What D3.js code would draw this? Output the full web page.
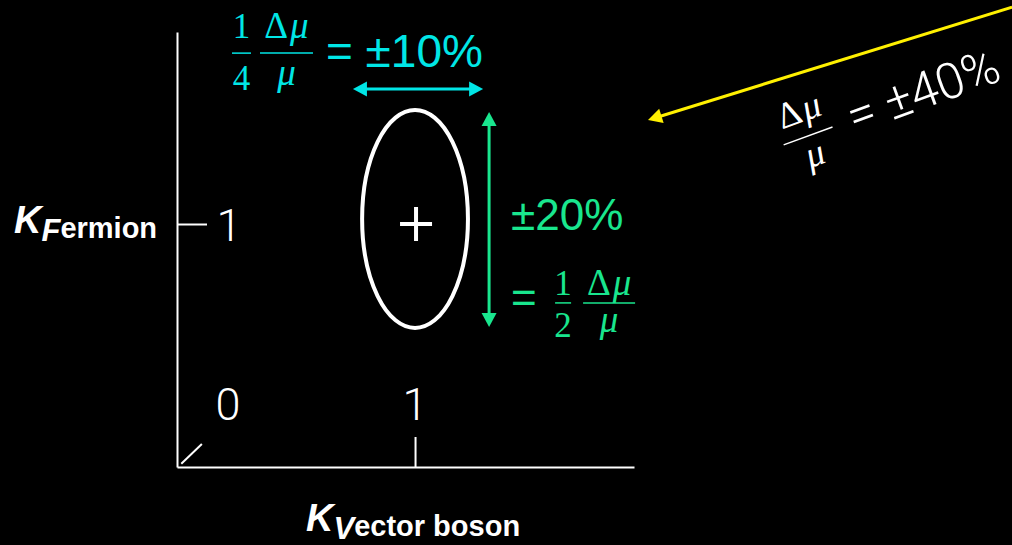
<!DOCTYPE html>
<html>
<head>
<meta charset="utf-8">
<title>Coupling precision sketch</title>
<script src="https://d3js.org/d3.v7.min.js"></script>
<style>
  body { margin: 0; background: #000; }
  svg { display: block; background: #000; }
  .axis path, .axis line { stroke: #fff; stroke-width: 2; }
  .sans { font-family: "Liberation Sans", Arial, sans-serif; }
  .math { font-family: "Liberation Serif", "DejaVu Serif", serif; }
  .light { font-family: Roboto, "Liberation Sans", sans-serif; font-weight: 300; }
</style>
</head>
<body>
<svg id="chart" width="1012" height="545"></svg>
<script>
// axis extents, in kappa units
const kvExtent = [-0.273, 2.171];
const kfExtent = [-0.358, 2.073];
const xTickValues = [1];
const yTickValues = [1];
const xTickLabels = [0, 1];
const yTickLabels = [1];

// fit ellipse: centre and half widths, plus best fit point
const fitCentre = [1, 1.028];
const fitHalfWidth = [0.283, 0.609];
const bestFit = [1, 1];

// annotation arrows [from, to]
const cyanArrow = [[0.668, 1.754], [1.364, 1.754]];
const greenArrow = [[1.396, 1.626], [1.396, 0.425]];
const yellowArrow = [[4.193, 2.212], [2.246, 1.581]];

// annotation anchors and their percentages
const cyanAnchor = [0.021, 1.955];
const greenAnchor = [1.749, 0.559];
const whiteAnchor = [3.102, 1.492];
const pctLabels = ["±10%", "±20%", "±40%"];

const cyan = "#00e6e6", green = "#19e68e", yellow = "#fff000";

const svg = d3.select("#chart");

const x = d3.scaleLinear().domain(kvExtent).range([177, 634]);
const y = d3.scaleLinear().domain(kfExtent).range([467, 32]);

// axes
svg.append("g")
  .attr("class", "axis")
  .attr("transform", "translate(0," + y(kfExtent[0]) + ")")
  .call(d3.axisBottom(x).tickValues(xTickValues).tickSize(-30).tickSizeOuter(0).tickFormat(""));

svg.append("g")
  .attr("class", "axis")
  .attr("transform", "translate(" + x(kvExtent[0]) + ",0)")
  .call(d3.axisLeft(y).tickValues(yTickValues).tickSize(-30).tickSizeOuter(0).tickFormat(""));

// little break mark at the origin
const breakMark = [[-0.25, -0.34], [-0.14, -0.23]];
svg.append("line")
  .attr("x1", x(breakMark[0][0])).attr("y1", y(breakMark[0][1]))
  .attr("x2", x(breakMark[1][0])).attr("y2", y(breakMark[1][1]))
  .attr("stroke", "#fff").attr("stroke-width", 2);

// tick labels
svg.selectAll(".xlab").data(xTickLabels).enter().append("text")
  .attr("class", "light")
  .attr("x", d => x(d)).attr("y", y(0) + 17)
  .attr("text-anchor", "middle").attr("font-size", 45).attr("fill", "#fff")
  .text(d => d);

svg.selectAll(".ylab").data(yTickLabels).enter().append("text")
  .attr("class", "light")
  .attr("x", x(0) + 1).attr("y", d => y(d) + 17)
  .attr("text-anchor", "middle").attr("font-size", 45).attr("fill", "#fff")
  .text(d => d);

// axis titles
function axisTitle(px, py, cap, rest) {
  const t = svg.append("text").attr("class", "sans").attr("x", px).attr("y", py).attr("fill", "#fff").attr("font-weight", "bold");
  t.append("tspan").attr("font-size", 38).attr("font-style", "italic").text("K");
  t.append("tspan").attr("font-size", 31).attr("font-style", "italic").attr("dy", 8).text(cap);
  t.append("tspan").attr("font-size", 29).attr("dy", -3).text(rest);
}
axisTitle(14, 233, "F", "ermion");
axisTitle(306, 531, "V", "ector boson");

// fit ellipse and best fit marker
svg.append("ellipse")
  .attr("cx", x(fitCentre[0])).attr("cy", y(fitCentre[1]))
  .attr("rx", x(fitCentre[0] + fitHalfWidth[0]) - x(fitCentre[0]))
  .attr("ry", y(fitCentre[1] - fitHalfWidth[1]) - y(fitCentre[1]))
  .attr("fill", "none").attr("stroke", "#fff").attr("stroke-width", 4);

const bx = x(bestFit[0]) + 1, by = y(bestFit[1]);
svg.append("path")
  .attr("d", `M${bx - 16},${by}H${bx + 16}M${bx},${by - 17}V${by + 17}`)
  .attr("stroke", "#fff").attr("stroke-width", 4);

// arrows
function arrow(pts, color, both) {
  const p0 = [x(pts[0][0]), y(pts[0][1])];
  const p1 = [x(pts[1][0]), y(pts[1][1])];
  const len = 14, hw = 7.5;
  const dx = p1[0] - p0[0], dy = p1[1] - p0[1];
  const L = Math.hypot(dx, dy), ux = dx / L, uy = dy / L;
  const a = both ? [p0[0] + ux * len * 0.8, p0[1] + uy * len * 0.8] : p0;
  const b = [p1[0] - ux * len * 0.8, p1[1] - uy * len * 0.8];
  svg.append("line").attr("x1", a[0]).attr("y1", a[1]).attr("x2", b[0]).attr("y2", b[1])
    .attr("stroke", color).attr("stroke-width", 3);
  const head = (tip, sx, sy) => {
    const bxp = tip[0] - sx * len, byp = tip[1] - sy * len;
    svg.append("path")
      .attr("d", `M${tip[0]},${tip[1]}L${bxp - sy * hw},${byp + sx * hw}L${bxp + sy * hw},${byp - sx * hw}Z`)
      .attr("fill", color);
  };
  head(p1, ux, uy);
  if (both) head(p0, -ux, -uy);
}
arrow(cyanArrow, cyan, true);
arrow(greenArrow, green, true);
arrow(yellowArrow, yellow, false);

// fractions
const dmu = 'Δ<tspan font-style="italic" dx="2">μ</tspan>';
const mu = '<tspan font-style="italic">μ</tspan>';
function fraction(g, x0, x1, num, den, numY, denY, color, size) {
  const cx = (x0 + x1) / 2;
  g.append("line").attr("x1", x0).attr("x2", x1).attr("y1", 0).attr("y2", 0)
    .attr("stroke", color).attr("stroke-width", 1.5);
  g.append("text").attr("class", "math").attr("x", cx).attr("y", numY)
    .attr("text-anchor", "middle").attr("font-size", size).attr("fill", color).html(num);
  g.append("text").attr("class", "math").attr("x", cx).attr("y", denY)
    .attr("text-anchor", "middle").attr("font-size", size).attr("fill", color).html(den);
}

// cyan: 1/4 dmu/mu = ±10%
const gc = svg.append("g").attr("transform", `translate(${x(cyanAnchor[0])},${y(cyanAnchor[1])})`);
fraction(gc, 0, 19, "1", "4", -15, 37, cyan, 35);
fraction(gc, 28, 81, dmu, mu, -15, 32, cyan, 37);
gc.append("text").attr("class", "sans").attr("x", 94).attr("y", 14)
  .attr("font-size", 46).attr("fill", cyan).text("= " + pctLabels[0]);

// green: ±20% = 1/2 dmu/mu
const gg = svg.append("g").attr("transform", `translate(${x(greenAnchor[0])},${y(greenAnchor[1])})`);
gg.append("text").attr("class", "sans").attr("x", -44).attr("y", -73)
  .attr("font-size", 44).attr("fill", green).text(pctLabels[1]);
gg.append("text").attr("class", "sans").attr("x", -44).attr("y", 10)
  .attr("font-size", 44).attr("fill", green).text("=");
fraction(gg, 0, 16, "1", "2", -8, 34, green, 35);
fraction(gg, 28, 80, dmu, mu, -8, 29, green, 37);

// white rotated: dmu/mu = ±40%
const gw = svg.append("g").attr("transform", `translate(${x(whiteAnchor[0])},${y(whiteAnchor[1])}) rotate(-20)`);
fraction(gw, -26, 26, dmu, mu, -15, 31, "#fff", 37);
gw.append("text").attr("class", "light").attr("x", 44).attr("y", 14)
  .attr("font-size", 50).attr("fill", "#fff").text("= " + pctLabels[2]);
</script>
</body>
</html>
